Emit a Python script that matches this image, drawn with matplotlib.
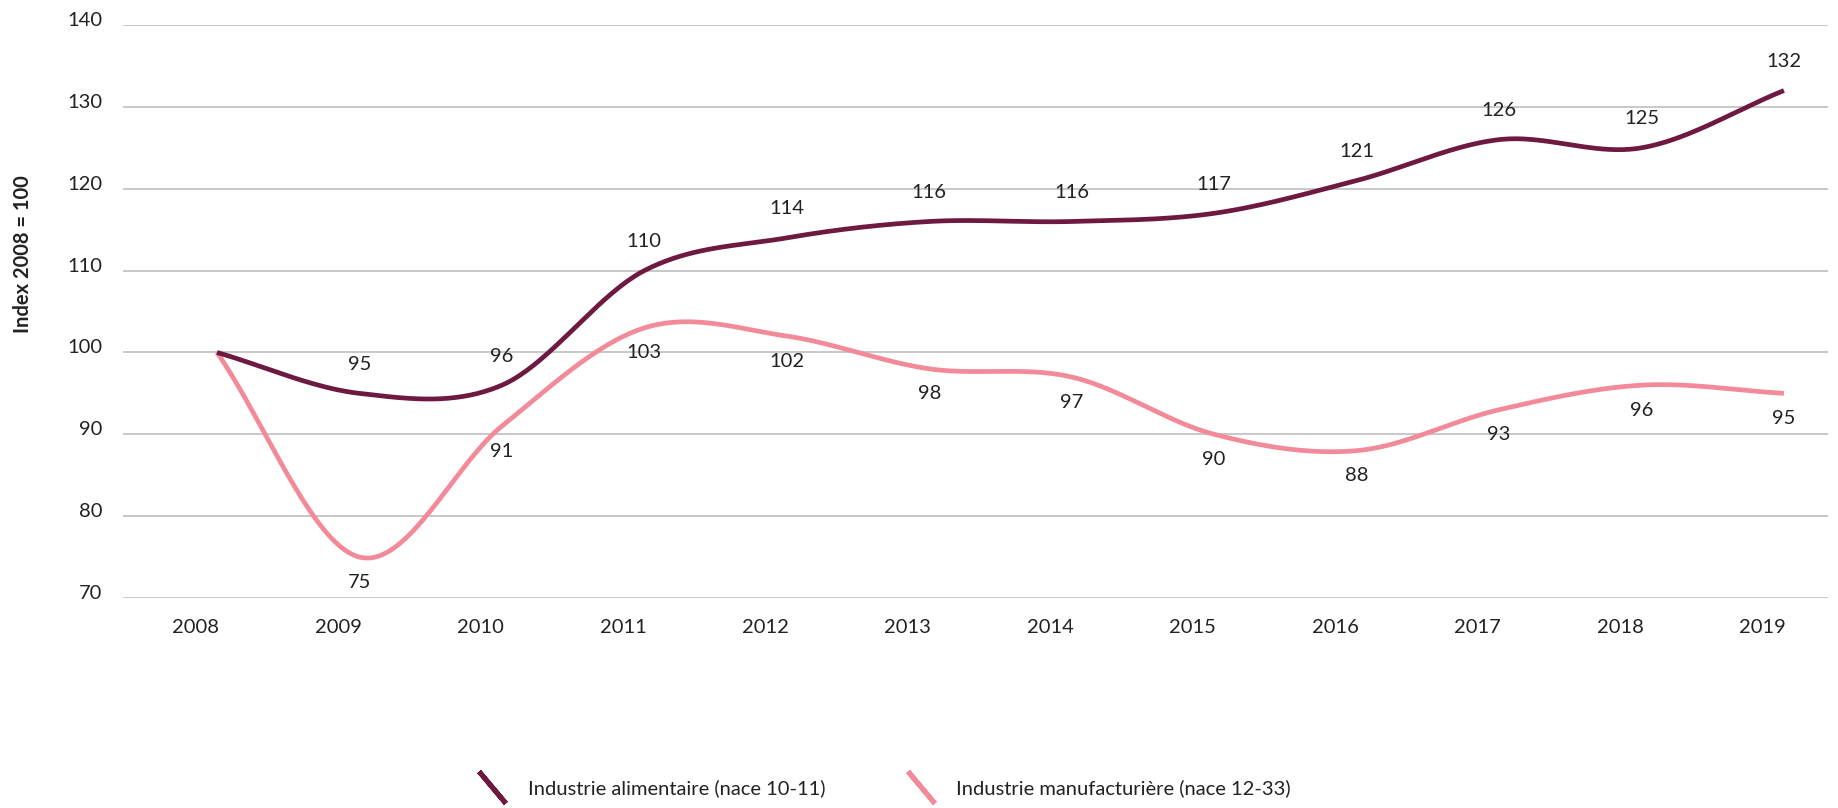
import numpy as np
import matplotlib.pyplot as plt
from matplotlib.lines import Line2D
from matplotlib.transforms import ScaledTranslation

plt.rcParams['font.family'] = ['Lato', 'DejaVu Sans']

years = ['2008', '2009', '2010', '2011', '2012', '2013', '2014', '2015', '2016', '2017', '2018', '2019']
alimentaire = [100, 95, 96, 110, 114, 116, 116, 117, 121, 126, 125, 132]
manufacturiere = [100, 75, 91, 103, 102, 98, 97, 90, 88, 93, 96, 95]
yticks = [70, 80, 90, 100, 110, 120, 130, 140]

c_alim = '#6e1a40'
c_manu = '#f28a9a'
fs = 14.5


def catmull_rom(vals, steps=40):
    # smooth line through the points (catmull-rom spline)
    y = np.asarray(vals, dtype=float)
    y = np.concatenate([[2 * y[0] - y[1]], y, [2 * y[-1] - y[-2]]])
    xs, ys = [], []
    t = np.linspace(0, 1, steps, endpoint=False)
    for i in range(1, len(y) - 2):
        p0, p1, p2, p3 = y[i - 1], y[i], y[i + 1], y[i + 2]
        seg = 0.5 * (2 * p1 + (-p0 + p2) * t + (2 * p0 - 5 * p1 + 4 * p2 - p3) * t ** 2
                     + (-p0 + 3 * p1 - 3 * p2 + p3) * t ** 3)
        xs.append(i - 1 + t)
        ys.append(seg)
    xs.append([len(vals) - 1])
    ys.append([vals[-1]])
    return np.concatenate(xs), np.concatenate(ys)


fig = plt.figure(figsize=(18.38, 8.08), dpi=100)
ax = fig.add_axes([0.0669, 0.2599, 0.9277, 0.7091])

x = np.arange(len(years))
xa, ya = catmull_rom(alimentaire)
xm, ym = catmull_rom(manufacturiere)
ax.plot(xm, ym, color=c_manu, lw=3.4, solid_capstyle='butt', zorder=3)
ax.plot(xa, ya, color=c_alim, lw=3.4, solid_capstyle='butt', zorder=4)

# data labels (no label for the base year)
for i in range(1, len(years)):
    ax.annotate(str(alimentaire[i]), (x[i], alimentaire[i]), xytext=(0, 21),
                textcoords='offset points', ha='center', va='center',
                fontsize=fs, color='#222222')
    ax.annotate(str(manufacturiere[i]), (x[i], manufacturiere[i]), xytext=(0, -18),
                textcoords='offset points', ha='center', va='center',
                fontsize=fs, color='#222222')

ax.set_ylim(70, 140)
ax.set_xlim(-0.66, 11.31)
ax.set_yticks(yticks)
ax.set_xticks(x - 0.15)
ax.set_xticklabels(years)
ax.yaxis.grid(True, color='#c4c4c4', lw=1.3)
ax.set_axisbelow(True)
for s in ax.spines.values():
    s.set_visible(False)
ax.tick_params(axis='both', length=0, labelsize=fs, colors='#222222')
ax.tick_params(axis='y', pad=15)
ax.tick_params(axis='x', pad=15)
off = ScaledTranslation(0, 6 / 100, fig.dpi_scale_trans)
for lab in ax.get_yticklabels():
    lab.set_transform(lab.get_transform() + off)

ax.set_ylabel('Index 2008 = 100', fontsize=fs, fontweight='bold', color='#222222')
ax.yaxis.set_label_coords(-0.053, 0.6)

handles = [
    Line2D([], [], linestyle='none', marker=(2, 2, 40), markersize=30,
           markeredgewidth=3.6, color=c_alim),
    Line2D([], [], linestyle='none', marker=(2, 2, 40), markersize=30,
           markeredgewidth=3.6, color=c_manu),
]
fig.legend(handles, ['Industrie alimentaire (nace 10-11)', 'Industrie manufacturière (nace 12-33)'],
           loc='center', bbox_to_anchor=(0.481, 0.025), ncol=2, frameon=False,
           fontsize=fs, handlelength=1.5, handletextpad=1.0, columnspacing=4.0,
           labelcolor='#222222')

fig.savefig('out.png', dpi=100)
